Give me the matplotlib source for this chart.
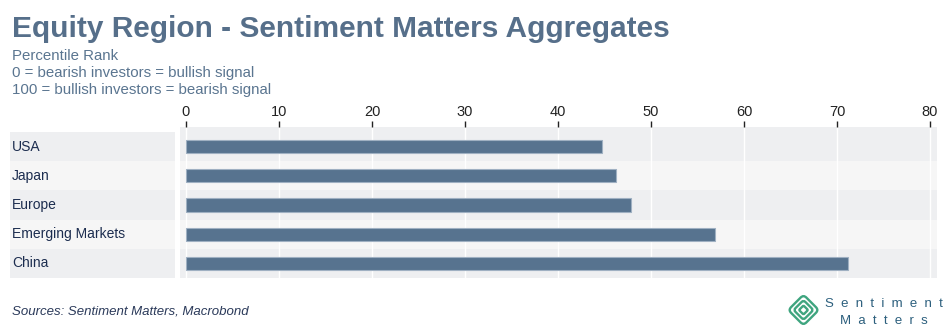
import numpy as np
import matplotlib
matplotlib.use('Agg')
import matplotlib.pyplot as plt
from matplotlib.patches import FancyBboxPatch
from matplotlib.transforms import Affine2D

plt.rcParams['font.family'] = ['Liberation Sans', 'DejaVu Sans']

# data
regions = ['USA', 'Japan', 'Europe', 'Emerging Markets', 'China']
percentile = [44.7, 46.2, 47.9, 56.9, 71.2]
xticks = [0, 10, 20, 30, 40, 50, 60, 70, 80]

title_txt = 'Equity Region - Sentiment Matters Aggregates'
subtitle_lines = ['Percentile Rank',
                  '0 = bearish investors = bullish signal',
                  '100 = bullish investors = bearish signal']
source_txt = 'Sources: Sentiment Matters, Macrobond'

W, H = 950, 336
fig = plt.figure(figsize=(W / 100, H / 100), dpi=100)

def px_axes(x0, y0, x1, y1):
    # pixel box (top-left origin) -> axes
    return fig.add_axes([x0 / W, 1 - y1 / H, (x1 - x0) / W, (y1 - y0) / H])

title_col = '#566f8a'
label_col = '#1c2d4f'
row_cols = ['#eeeff1', '#f6f6f6']
bar_col = '#57738f'

n = len(regions)
ypos = np.arange(n)

# plot area
ax = px_axes(180, 127, 937, 278)
top = -0.5 - 5 / 29
ax.set_ylim(n - 0.5, top)
ax.set_xlim(-6 / 9.3, 751 / 9.3)
for i in range(n):
    lo = top if i == 0 else i - 0.5
    ax.axhspan(lo, i + 0.5, color=row_cols[i % 2], lw=0, zorder=0)
for t in xticks:
    ax.axvline(t, color='white', lw=1, zorder=1)
ax.barh(ypos, percentile, height=0.45, color=bar_col, edgecolor='#9fb0c2',
        linewidth=0.8, zorder=2)
ax.set_yticks([])
ax.set_xticks(xticks)
ax.xaxis.tick_top()
ax.tick_params(axis='x', direction='out', length=4, width=1, color='#222222',
               labelsize=10.5, labelcolor='#222222', pad=2)
for s in ax.spines.values():
    s.set_visible(False)

# label column
lab = px_axes(10, 132, 175, 278)
lab.set_ylim(n - 0.5, -0.5)
lab.set_xlim(0, 1)
for i in range(n):
    lab.axhspan(i - 0.5, i + 0.5, color=row_cols[i % 2], lw=0)
    lab.text(0.012, i, regions[i], va='center', ha='left', fontsize=10,
             color=label_col)
lab.axis('off')

# titles
fig.text(12 / W, 1 - 37 / H, title_txt, fontsize=21.5, fontweight='bold',
         color=title_col, va='baseline')
for k, line in enumerate(subtitle_lines):
    fig.text(12 / W, 1 - (60 + 17 * k) / H, line, fontsize=10.8,
             color='#5a7590', va='baseline')
fig.text(12 / W, 1 - 315 / H, source_txt, fontsize=9.5, style='italic',
         color='#2b3a5a', va='baseline')

# logo: three rounded diamonds
lg = px_axes(778.5, 287, 828.5, 333)
lg.set_xlim(-25, 25)
lg.set_ylim(-23, 23)
lg.axis('off')
green = '#3fa57f'
rot = Affine2D().rotate_deg(45) + lg.transData
for a, rs in [(10.8, 4.0), (7.0, 2.6), (3.2, 1.2)]:
    p = FancyBboxPatch((-a, -a), 2 * a, 2 * a,
                       boxstyle='round,pad=0,rounding_size=%g' % rs,
                       facecolor='none', edgecolor=green, lw=1.7,
                       transform=rot)
    lg.add_patch(p)
logo_col = '#2c5f7d'
fig.text(884 / W, 1 - 307 / H, '  '.join('Sentiment'), fontsize=9.5,
         color=logo_col, ha='center', va='baseline')
fig.text(884 / W, 1 - 324 / H, '  '.join('Matters'), fontsize=9.5,
         color=logo_col, ha='center', va='baseline')

fig.savefig('out.png', dpi=100, facecolor='white')
